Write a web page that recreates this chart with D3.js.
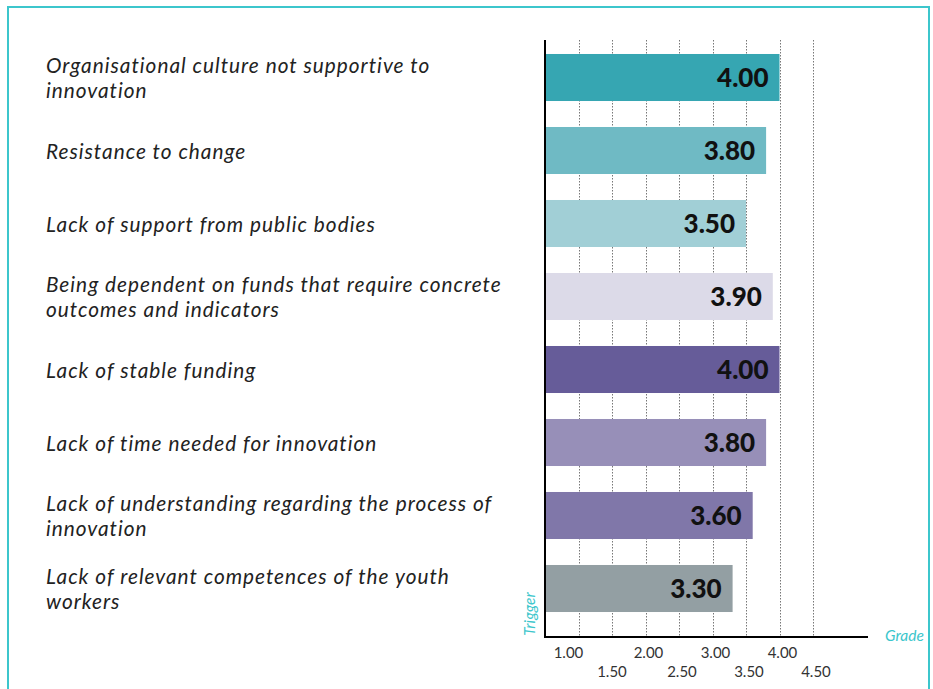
<!DOCTYPE html>
<html>
<head>
<meta charset="utf-8">
<script src="https://cdn.jsdelivr.net/npm/d3@7/dist/d3.min.js"></script>
<style>
  html, body { margin: 0; padding: 0; background: #fff; }
  svg { display: block; }
</style>
</head>
<body>
<svg id="chart" width="933" height="689"></svg>
<script>
// Barriers to innovation, average grade per trigger
const categories = [
  "Organisational culture not supportive to\ninnovation",
  "Resistance to change",
  "Lack of support from public bodies",
  "Being dependent on funds that require concrete\noutcomes and indicators",
  "Lack of stable funding",
  "Lack of time needed for innovation",
  "Lack of understanding regarding the process of\ninnovation",
  "Lack of relevant competences of the youth\nworkers"
];
const values = [4.00, 3.80, 3.50, 3.90, 4.00, 3.80, 3.60, 3.30];
const barColors = ["#36a6b2", "#6fbac4", "#a1cfd6", "#dcdae8", "#665c99", "#978fb8", "#8077a9", "#939fa3"];
const tickValues = [1.0, 1.5, 2.0, 2.5, 3.0, 3.5, 4.0, 4.5];
const tickLabels = ["1.00", "1.50", "2.00", "2.50", "3.00", "3.50", "4.00", "4.50"];

const svg = d3.select("#chart");
const teal = "#3cc6cc";

// outer frame
svg.append("rect")
  .attr("x", 8).attr("y", 7)
  .attr("width", 921).attr("height", 700)
  .attr("fill", "none")
  .attr("stroke", teal)
  .attr("stroke-width", 2);

const plotTop = 40, plotBottom = 637;
const x = d3.scaleLinear().domain([0.5, 4.5]).range([545, 813]);
const y = d3.scaleBand()
  .domain(d3.range(categories.length))
  .range([41, 625])
  .paddingInner(0.356)
  .paddingOuter(0.178);

// dotted grid lines
svg.append("g")
  .selectAll("line")
  .data(tickValues)
  .join("line")
  .attr("x1", d => Math.round(x(d)) + 0.5)
  .attr("x2", d => Math.round(x(d)) + 0.5)
  .attr("y1", plotTop)
  .attr("y2", plotBottom)
  .attr("stroke", "#777")
  .attr("stroke-width", 1)
  .attr("stroke-dasharray", "1.5,1.5");

// bars
svg.append("g")
  .selectAll("rect")
  .data(values)
  .join("rect")
  .attr("x", x(0.5))
  .attr("y", (d, i) => y(i))
  .attr("width", d => x(d) - x(0.5))
  .attr("height", y.bandwidth())
  .attr("fill", (d, i) => barColors[i]);

// value labels inside bar ends
svg.append("g")
  .selectAll("text")
  .data(values)
  .join("text")
  .attr("x", d => x(d) - 11)
  .attr("y", (d, i) => y(i) + y.bandwidth() / 2)
  .attr("dy", "0.38em")
  .attr("text-anchor", "end")
  .attr("font-family", "Lato, 'Open Sans', sans-serif")
  .attr("font-weight", 900)
  .attr("font-size", 26)
  .attr("fill", "#111")
  .text(d => d.toFixed(2));

// category labels on the left
const catG = svg.append("g");
categories.forEach((c, i) => {
  const lines = c.split("\n");
  const cy = y(i) + y.bandwidth() / 2 + 1;
  const lh = 25;
  const t = catG.append("text")
    .attr("font-family", "Lato, 'Open Sans', sans-serif")
    .attr("font-style", "italic")
    .attr("font-size", 20.8)
    .attr("letter-spacing", 1.0)
    .attr("fill", "#222");
  lines.forEach((ln, k) => {
    t.append("tspan")
      .attr("x", 46)
      .attr("y", cy + (k - (lines.length - 1) / 2) * lh)
      .attr("dy", "0.35em")
      .text(ln);
  });
});

// axes lines
svg.append("line")
  .attr("x1", x(0.5)).attr("x2", x(0.5))
  .attr("y1", plotTop).attr("y2", plotBottom + 1)
  .attr("stroke", "#000").attr("stroke-width", 2);
svg.append("line")
  .attr("x1", x(0.5) - 1).attr("x2", 868)
  .attr("y1", plotBottom).attr("y2", plotBottom)
  .attr("stroke", "#000").attr("stroke-width", 2);

// staggered tick labels
svg.append("g")
  .selectAll("text")
  .data(tickValues)
  .join("text")
  .attr("x", (d, i) => x(d) + (i === 0 ? -10 : (i < 2 ? 0 : 3)))
  .attr("y", (d, i) => i % 2 === 0 ? 658 : 677)
  .attr("text-anchor", "middle")
  .attr("font-family", "Lato, 'Open Sans', sans-serif")
  .attr("font-size", 15)
  .attr("fill", "#333")
  .text((d, i) => tickLabels[i]);

// axis titles
svg.append("text")
  .attr("x", 885).attr("y", 641)
  .attr("font-family", "Lato, 'Open Sans', sans-serif")
  .attr("font-style", "italic")
  .attr("font-size", 15.5)
  .attr("fill", teal)
  .text("Grade");
svg.append("text")
  .attr("transform", "translate(535,614) rotate(-90)")
  .attr("text-anchor", "middle")
  .attr("font-family", "Lato, 'Open Sans', sans-serif")
  .attr("font-style", "italic")
  .attr("font-size", 15.5)
  .attr("fill", teal)
  .text("Trigger");
</script>
</body>
</html>
